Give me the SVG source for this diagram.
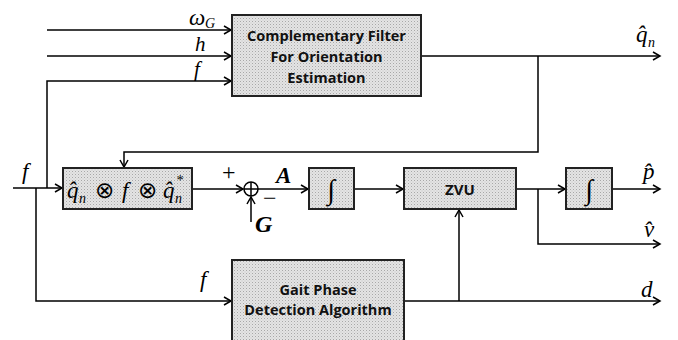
<svg xmlns="http://www.w3.org/2000/svg" width="678" height="340" viewBox="0 0 678 340">
<defs>
<pattern id="dots" width="3" height="3" patternUnits="userSpaceOnUse">
<rect width="3" height="3" fill="#e4e4e4"/>
<rect width="1" height="1" fill="#a8a8a8"/>
<rect x="1.5" y="1.5" width="1" height="1" fill="#c4c4c4"/>
</pattern>
<marker id="arr" markerWidth="10" markerHeight="10" refX="8" refY="5" orient="auto" markerUnits="userSpaceOnUse">
<path d="M1,1 L8,5 L1,9" fill="none" stroke="#000" stroke-width="1.5"/>
</marker>
</defs>
<style>
.box{fill:url(#dots);stroke:#222;stroke-width:2}
.ln{fill:none;stroke:#000;stroke-width:1.5}
.lbl{font-family:"Open Sans",Lato,sans-serif;font-weight:bold;font-size:14.5px;fill:#111;text-anchor:middle}
.m{font-family:"Liberation Serif",serif;font-style:italic;font-size:23px;fill:#000}
.sub{font-family:"Liberation Serif",serif;font-style:italic;font-size:14px;fill:#000}
.op{font-family:"DejaVu Sans",sans-serif;font-size:23px;fill:#000}
.int{font-family:"Liberation Serif",serif;font-size:28px;fill:#000;text-anchor:middle}
</style>
<rect width="678" height="340" fill="#fff"/>
<g id="connectors">
<path class="ln" d="M47,30 H231" marker-end="url(#arr)"/>
<path class="ln" d="M47,56 H231" marker-end="url(#arr)"/>
<path class="ln" d="M47,188 V81 H231" marker-end="url(#arr)"/>
<path class="ln" d="M13,188 H62" marker-end="url(#arr)"/>
<path class="ln" d="M36,188 V301 H231" marker-end="url(#arr)"/>
<path class="ln" d="M421,56 H660" marker-end="url(#arr)"/>
<path class="ln" d="M538,56 V152 H124 V167" marker-end="url(#arr)"/>
<path class="ln" d="M192,189 H243" marker-end="url(#arr)"/>
<path class="ln" d="M251,222 V197" marker-end="url(#arr)"/>
<path class="ln" d="M258,189 H308" marker-end="url(#arr)"/>
<path class="ln" d="M354,189 H403" marker-end="url(#arr)"/>
<path class="ln" d="M516,189 H565" marker-end="url(#arr)"/>
<path class="ln" d="M538,189 V244 H660" marker-end="url(#arr)"/>
<path class="ln" d="M612,189 H660" marker-end="url(#arr)"/>
<path class="ln" d="M404,301 H660" marker-end="url(#arr)"/>
<path class="ln" d="M459,301 V210" marker-end="url(#arr)"/>
</g>
<g id="cf">
<rect class="box" x="232" y="15" width="189" height="81"/>
<text class="lbl" x="326.5" y="41">Complementary Filter</text>
<text class="lbl" x="326.5" y="62">For Orientation</text>
<text class="lbl" x="326.5" y="83">Estimation</text>
</g>
<g id="rot">
<rect class="box" x="63" y="168" width="129" height="41"/>
<text class="m" x="67" y="198">q̂</text>
<text class="sub" x="79" y="203">n</text>
<text class="op" x="95" y="198">⊗</text>
<text class="m" x="122" y="198">f</text>
<text class="op" x="138" y="198">⊗</text>
<text class="m" x="163" y="198">q̂</text>
<text class="sub" x="175" y="203">n</text>
<text class="sub" x="176" y="185">*</text>
</g>
<g id="sum">
<circle cx="251" cy="189" r="7" fill="#fff" stroke="#000" stroke-width="1.5"/>
<path class="ln" d="M244,189 H258 M251,182 V196"/>
<text class="m" x="222" y="180" style="font-style:normal;font-size:24px">+</text>
<text class="m" x="263" y="206" style="font-style:normal;font-size:24px">−</text>
</g>
<g id="int1">
<rect class="box" x="309" y="168" width="45" height="41"/>
<text class="int" x="331" y="199">∫</text>
</g>
<g id="zvu">
<rect class="box" x="404" y="168" width="112" height="41"/>
<text class="lbl" x="460" y="195" style="font-size:15px">ZVU</text>
</g>
<g id="int2">
<rect class="box" x="566" y="168" width="46" height="41"/>
<text class="int" x="589" y="199">∫</text>
</g>
<g id="gait">
<rect class="box" x="232" y="260" width="172" height="90"/>
<text class="lbl" x="318" y="295">Gait Phase</text>
<text class="lbl" x="318" y="315">Detection Algorithm</text>
</g>
<g id="labels">
<text class="m" x="189" y="25">ω</text>
<text class="sub" x="205" y="28">G</text>
<text class="m" x="195" y="51" style="font-size:21px">h</text>
<text class="m" x="194" y="76" style="font-size:21px">f</text>
<text class="m" x="22" y="179">f</text>
<text class="m" x="200" y="287">f</text>
<text class="m" x="276" y="183" style="font-weight:bold">A</text>
<text class="m" x="255" y="232" style="font-weight:bold;font-size:24px">G</text>
<text class="m" x="636" y="42">q̂</text>
<text class="sub" x="648" y="47">n</text>
<text class="m" x="643" y="179">p̂</text>
<text class="m" x="644" y="237">v̂</text>
<text class="m" x="641" y="297">d</text>
</g>
</svg>
